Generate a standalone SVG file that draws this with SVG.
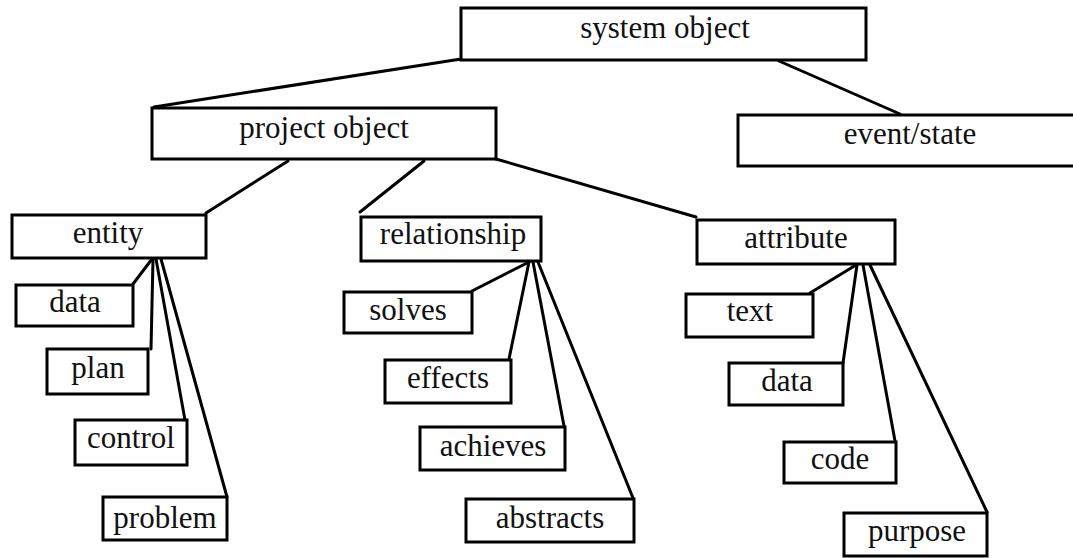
<svg xmlns="http://www.w3.org/2000/svg" width="1073" height="558" viewBox="0 0 1073 558">
<style>
.box{fill:#fff;stroke:#000;stroke-width:3}
.lbl{font-family:"Liberation Serif","Times New Roman",serif;font-size:31px;fill:#111;text-anchor:middle}
.con line{stroke:#000;stroke-width:3;stroke-linecap:round}
</style>
<rect width="1073" height="558" fill="#fff"/>
<g class="con">
<line x1="461" y1="59" x2="154" y2="107"/>
<line x1="779" y1="61" x2="900" y2="114"/>
<line x1="288" y1="161" x2="206" y2="213"/>
<line x1="424" y1="161" x2="360" y2="212"/>
<line x1="496" y1="159" x2="696" y2="217"/>
<line x1="152" y1="259" x2="133" y2="284"/>
<line x1="153" y1="259" x2="151" y2="349"/>
<line x1="156" y1="259" x2="185" y2="420"/>
<line x1="161" y1="259" x2="227" y2="497"/>
<line x1="529" y1="262" x2="472" y2="291"/>
<line x1="529" y1="262" x2="509" y2="359"/>
<line x1="533" y1="262" x2="564" y2="426"/>
<line x1="538" y1="262" x2="633" y2="498"/>
<line x1="856" y1="265" x2="810" y2="293"/>
<line x1="857" y1="265" x2="843" y2="363"/>
<line x1="863" y1="265" x2="895" y2="441"/>
<line x1="870" y1="265" x2="987" y2="512"/>
</g>
<g id="system-object"><rect class="box" x="461" y="8" width="405" height="52"/><text class="lbl" x="665" y="38">system object</text></g>
<g id="event-state"><rect class="box" x="738" y="115" width="345" height="51"/><text class="lbl" x="910" y="144">event/state</text></g>
<g id="project-object"><rect class="box" x="152" y="108" width="344" height="51"/><text class="lbl" x="324" y="138">project object</text></g>
<g id="entity"><rect class="box" x="12" y="215" width="194" height="43"/><text class="lbl" x="108" y="243">entity</text></g>
<g id="relationship"><rect class="box" x="361" y="217" width="180" height="44"/><text class="lbl" x="453" y="244">relationship</text></g>
<g id="attribute"><rect class="box" x="697" y="220" width="198" height="44"/><text class="lbl" x="796" y="248">attribute</text></g>
<g id="entity-data"><rect class="box" x="16" y="285" width="117" height="41"/><text class="lbl" x="75" y="312">data</text></g>
<g id="plan"><rect class="box" x="47" y="349" width="101" height="45"/><text class="lbl" x="98" y="378">plan</text></g>
<g id="control"><rect class="box" x="75" y="420" width="112" height="45"/><text class="lbl" x="131" y="448">control</text></g>
<g id="problem"><rect class="box" x="103" y="497" width="124" height="43"/><text class="lbl" x="165" y="528">problem</text></g>
<g id="solves"><rect class="box" x="344" y="292" width="128" height="41"/><text class="lbl" x="408" y="320">solves</text></g>
<g id="effects"><rect class="box" x="385" y="360" width="126" height="43"/><text class="lbl" x="448" y="388">effects</text></g>
<g id="achieves"><rect class="box" x="420" y="427" width="145" height="43"/><text class="lbl" x="493" y="456">achieves</text></g>
<g id="abstracts"><rect class="box" x="466" y="499" width="168" height="43"/><text class="lbl" x="550" y="528">abstracts</text></g>
<g id="text"><rect class="box" x="686" y="294" width="127" height="43"/><text class="lbl" x="750" y="321">text</text></g>
<g id="attribute-data"><rect class="box" x="729" y="363" width="114" height="42"/><text class="lbl" x="787" y="391">data</text></g>
<g id="code"><rect class="box" x="784" y="442" width="112" height="41"/><text class="lbl" x="840" y="469">code</text></g>
<g id="purpose"><rect class="box" x="844" y="513" width="143" height="43"/><text class="lbl" x="917" y="541">purpose</text></g>
</svg>
